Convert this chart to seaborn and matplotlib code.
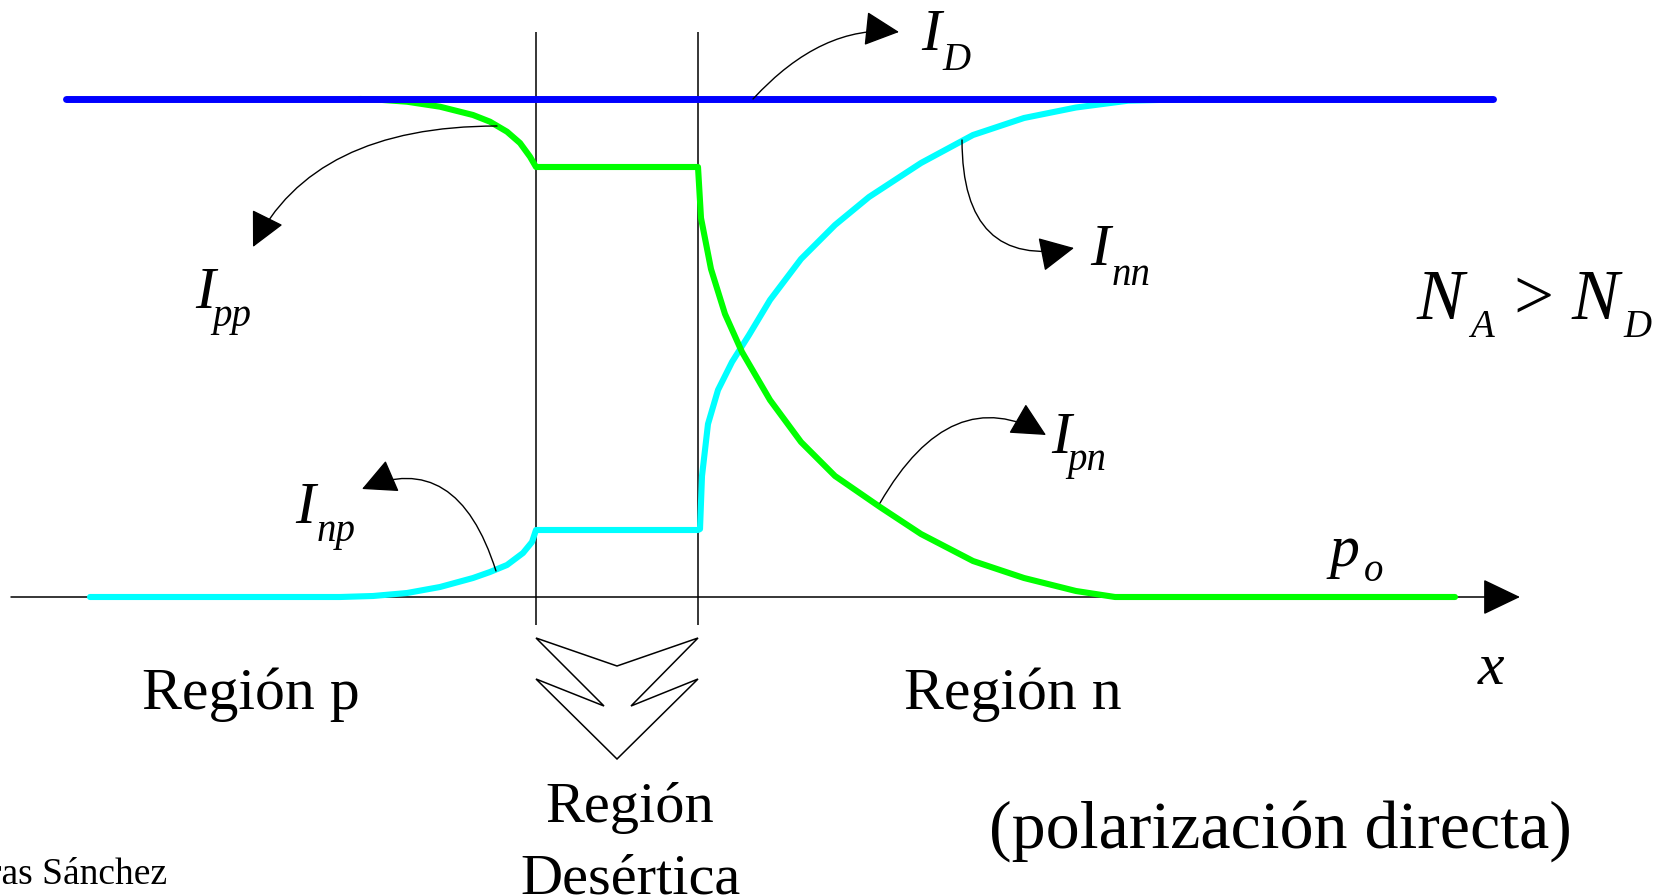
import numpy as np
import matplotlib
matplotlib.use('Agg')
import matplotlib.pyplot as plt
import seaborn as sns
from matplotlib.patches import FancyArrowPatch, Polygon
from matplotlib.path import Path

# curve samples (image pixel coords, y downward)
blue_x = [66, 1493]
blue_y = [99, 99]

green_x = [360, 373, 407, 440, 473, 490, 507, 520, 530, 536, 698,
           701, 711, 725, 742, 770, 801, 835, 880, 921, 973, 1024, 1076, 1115, 1455]
green_y = [99, 99.3, 101.7, 106.7, 115, 121.7, 131.7, 143, 156.7, 167, 167,
           218, 269, 314, 352, 400, 442, 476, 507, 534, 561, 578, 591, 597, 597]

cyan_x = [90, 340, 373, 407, 440, 473, 490, 507, 523, 532, 536, 698,
          700, 702, 708, 718, 732, 749, 770, 801, 835, 869, 921, 973, 1024, 1076, 1128, 1200]
cyan_y = [597, 597, 596, 593, 587, 578, 572, 565, 553, 542, 530, 530,
          529, 476, 424, 390, 362, 335, 300, 259, 225, 197, 163, 135, 118, 107.5, 100.7, 99]

junction_x = [536, 698]

sns.set_style('white')
plt.rcParams['font.family'] = ['Liberation Serif', 'DejaVu Serif']

fig = plt.figure(figsize=(16.64, 8.96), dpi=100)
ax = fig.add_axes([0, 0, 1, 1])
ax.set_xlim(0, 1664)
ax.set_ylim(896, 0)
ax.axis('off')

# x axis with arrow
ax.add_patch(FancyArrowPatch((11, 597), (1520, 597), arrowstyle='-|>,head_length=24,head_width=11.5',
                             mutation_scale=1, lw=1.1, color='black', shrinkA=0, shrinkB=0, zorder=2))

# depletion region edges
ax.vlines(junction_x, 32, 625, color='black', lw=1.1, zorder=2)

sns.lineplot(x=cyan_x, y=cyan_y, sort=False, estimator=None, color='#00ffff', lw=4.4,
             solid_capstyle='round', solid_joinstyle='round', ax=ax, zorder=3)
sns.lineplot(x=green_x, y=green_y, sort=False, estimator=None, color='#00ff00', lw=4.4,
             solid_capstyle='round', solid_joinstyle='round', ax=ax, zorder=4)
sns.lineplot(x=blue_x, y=blue_y, sort=False, estimator=None, color='#0000ff', lw=5,
             solid_capstyle='round', ax=ax, zorder=5)

# big down arrow under the depletion region
chevron = [(536, 638), (604, 706), (536, 679), (617, 759), (698, 679), (631, 706),
           (698, 638), (617, 666)]
ax.add_patch(Polygon(chevron, closed=True, fill=False, ec='black', lw=1.1, joinstyle='miter'))

# curved label arrows: start, control, tip
curves = [
    ((753, 99), (822, 24), (899, 32)),     # I_D
    ((497, 126), (313, 126), (253, 247)),  # I_pp
    ((496, 571), (457, 448), (362, 489)),  # I_np
    ((962, 140), (962, 270), (1074, 248)), # I_nn
    ((880, 503), (951, 380), (1046, 435)), # I_pn
]
for p0, c, p1 in curves:
    path = Path([p0, c, p1], [Path.MOVETO, Path.CURVE3, Path.CURVE3])
    ax.add_patch(FancyArrowPatch(path=path, arrowstyle='-|>,head_length=22,head_width=11',
                                 mutation_scale=1, lw=1.0, color='black', shrinkA=0, shrinkB=0,
                                 zorder=6))

big = 43
sub = 28
def label(x, y, s, size, italic=True, ha='left'):
    ax.text(x, y, s, fontsize=size, style='italic' if italic else 'normal',
            ha=ha, va='baseline', color='black', zorder=7)

label(921, 50, 'I', big); label(942, 70, 'D', sub)
label(195, 308, 'I', big); label(212, 326, 'pp', sub)
label(295, 523, 'I', big); label(317, 541, 'np', sub)
label(1090, 265, 'I', big); label(1112, 285, 'nn', sub)
label(1051, 453, 'I', big); label(1067, 470, 'pn', sub)
label(1330, 566, 'p', big); label(1364, 581, 'o', sub)
label(1491, 684, 'x', big, ha='center')

label(1417, 319, 'N', 51); label(1470, 337, 'A', sub)
label(1513, 319, '>', 51, italic=False)
label(1572, 319, 'N', 51); label(1623, 337, 'D', sub)

label(251, 709, 'Región p', 43, italic=False, ha='center')
label(1013, 709, 'Región n', 43, italic=False, ha='center')
label(630, 822, 'Región', 42, italic=False, ha='center')
label(630, 894, 'Desértica', 42, italic=False, ha='center')
label(1280, 848, '(polarización directa)', 49, italic=False, ha='center')
label(167, 884, 'ras Sánchez', 27, italic=False, ha='right')

fig.savefig('out.png', dpi=100)
